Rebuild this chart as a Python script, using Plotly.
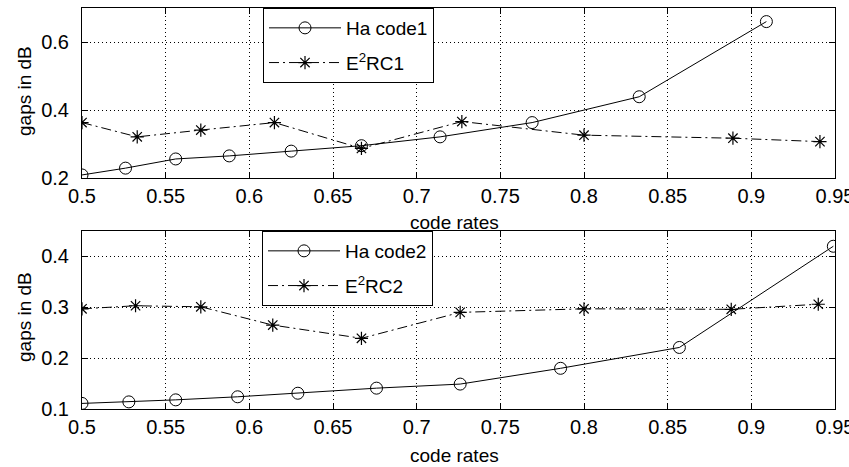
import plotly.graph_objects as go

# Code rates and gaps (dB) for the first pair of codes
ha1_rates = [0.5, 0.526, 0.556, 0.588, 0.625, 0.667, 0.714, 0.769, 0.833, 0.909]
ha1_gaps = [0.209, 0.229, 0.256, 0.265, 0.279, 0.295, 0.321, 0.363, 0.439, 0.660]
e2rc1_rates = [0.5, 0.533, 0.571, 0.615, 0.667, 0.727, 0.8, 0.889, 0.941]
e2rc1_gaps = [0.363, 0.321, 0.341, 0.363, 0.287, 0.366, 0.326, 0.317, 0.307]

# Code rates and gaps (dB) for the second pair of codes
ha2_rates = [0.5, 0.528, 0.556, 0.593, 0.629, 0.676, 0.726, 0.786, 0.857, 0.949]
ha2_gaps = [0.111, 0.114, 0.118, 0.124, 0.131, 0.141, 0.149, 0.180, 0.221, 0.420]
e2rc2_rates = [0.5, 0.532, 0.571, 0.614, 0.667, 0.726, 0.8, 0.888, 0.940]
e2rc2_gaps = [0.297, 0.303, 0.301, 0.265, 0.239, 0.290, 0.297, 0.296, 0.306]

x_ticks = [0.5, 0.55, 0.6, 0.65, 0.7, 0.75, 0.8, 0.85, 0.9, 0.95]
x_tick_text = ["0.5", "0.55", "0.6", "0.65", "0.7", "0.75", "0.8", "0.85", "0.9", "0.95"]
y1_ticks = [0.2, 0.4, 0.6]
y2_ticks = [0.1, 0.2, 0.3, 0.4]

FONT = "Liberation Sans, Arial, sans-serif"
DASHDOT = "10px,4px,2px,4px"

fig = go.Figure()

def add_pair(rates_a, gaps_a, name_a, rates_b, gaps_b, name_b, xa, ya, legend):
    fig.add_trace(go.Scatter(
        x=rates_a, y=gaps_a, name=name_a, xaxis=xa, yaxis=ya, legend=legend,
        legendgroup=name_a, mode="lines+markers",
        line=dict(color="black", width=1),
        marker=dict(symbol="circle-open", size=12, color="black", line=dict(width=1)),
    ))
    fig.add_trace(go.Scatter(
        x=rates_b, y=gaps_b, name=name_b, xaxis=xa, yaxis=ya, legend=legend,
        legendgroup=name_b, mode="lines+markers",
        line=dict(color="black", width=1, dash=DASHDOT),
        marker=dict(symbol="asterisk-open", size=11, color="black", line=dict(width=1.2)),
    ))

add_pair(ha1_rates, ha1_gaps, "Ha code1", e2rc1_rates, e2rc1_gaps, "E<sup>2</sup>RC1", "x", "y", "legend")
add_pair(ha2_rates, ha2_gaps, "Ha code2", e2rc2_rates, e2rc2_gaps, "E<sup>2</sup>RC2", "x2", "y2", "legend2")

W, H = 849, 467
x_dom = [82 / W, 835 / W]

axis_common = dict(
    showline=True, linecolor="black", linewidth=1, mirror="ticks",
    ticks="inside", ticklen=6, tickcolor="black", tickwidth=1,
    showgrid=True, gridcolor="black", gridwidth=1, griddash="1px,3px",
    zeroline=False, automargin=False, ticklabeloverflow="allow",
    tickfont=dict(family=FONT, size=20, color="black"),
)

xaxis_common = dict(axis_common, range=[0.5, 0.95], tickvals=x_ticks, ticktext=x_tick_text,
                    domain=x_dom, ticklabelstandoff=0)

legend_common = dict(
    xanchor="left", yanchor="top", bgcolor="white", bordercolor="black", borderwidth=1,
    font=dict(family=FONT, size=19, color="black"), tracegroupgap=7, itemwidth=72,
    entrywidth=180, traceorder="grouped",
)

fig.update_layout(
    width=W, height=H, margin=dict(l=0, r=0, t=0, b=0),
    paper_bgcolor="white", plot_bgcolor="white",
    font=dict(family=FONT, size=19, color="black"),
    xaxis=dict(xaxis_common, anchor="y"),
    yaxis=dict(axis_common, range=[0.2, 0.7], tickvals=y1_ticks, ticktext=["0.2", "0.4", "0.6"],
               domain=[(H - 178) / H, (H - 8) / H], anchor="x", ticklabelstandoff=8),
    xaxis2=dict(xaxis_common, anchor="y2"),
    yaxis2=dict(axis_common, range=[0.1, 0.45], tickvals=y2_ticks, ticktext=["0.1", "0.2", "0.3", "0.4"],
                domain=[(H - 409) / H, (H - 231) / H], anchor="x2", ticklabelstandoff=8),
    legend=dict(legend_common, x=263 / W, y=(H - 8) / H),
    legend2=dict(legend_common, x=262 / W, y=(H - 231) / H),
    showlegend=True,
)

# Axis titles
label_font = dict(family=FONT, size=19, color="black")
for xc, yc in [(454, 222), (454, 455)]:
    fig.add_annotation(text="code rates", xref="paper", yref="paper", x=xc / W, y=(H - yc) / H,
                       xanchor="center", yanchor="middle", showarrow=False, font=label_font)
for yc in [91, 317]:
    fig.add_annotation(text="gaps in dB", xref="paper", yref="paper", x=24 / W, y=(H - yc) / H,
                       xanchor="center", yanchor="middle", showarrow=False, textangle=-90,
                       font=label_font)

fig.write_html("out.html")
